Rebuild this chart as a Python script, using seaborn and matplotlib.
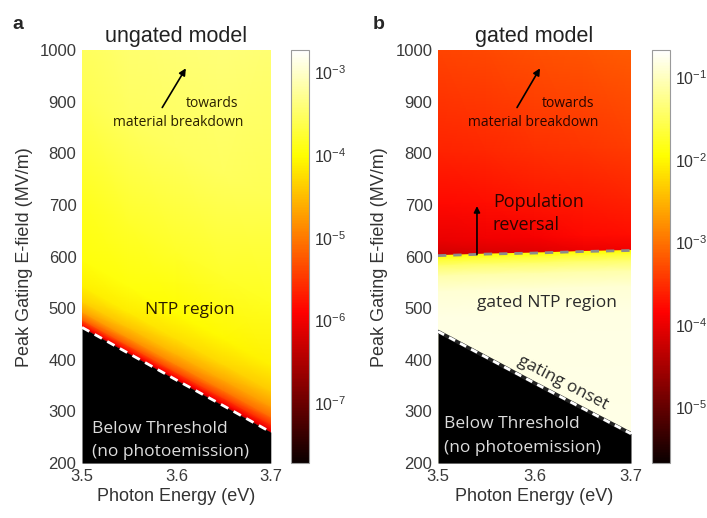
import numpy as np
import matplotlib
matplotlib.use('Agg')
import matplotlib.pyplot as plt
import seaborn as sns
from matplotlib.colors import LogNorm, Normalize
from matplotlib.cm import ScalarMappable

# photon energy columns of the mesh (eV)
energy = [3.5, 3.55, 3.6, 3.65, 3.7]

# panel a: threshold field (MV/m) and log10 yield above it
threshold_a = [463, 412, 361, 311, 260]
offset_a = [0, 5, 15, 30, 50, 80, 130, 250, 450, 800]
log_a = [
    [-6.30, -6.30, -6.30, -6.30, -6.30],
    [-5.80, -5.85, -5.90, -5.95, -6.00],
    [-5.20, -5.30, -5.40, -5.50, -5.60],
    [-4.70, -4.80, -4.90, -5.00, -5.10],
    [-4.35, -4.45, -4.55, -4.65, -4.75],
    [-4.10, -4.15, -4.25, -4.30, -4.40],
    [-3.95, -3.95, -4.00, -4.05, -4.10],
    [-3.85, -3.80, -3.80, -3.80, -3.85],
    [-3.60, -3.55, -3.55, -3.55, -3.60],
    [-3.40, -3.35, -3.35, -3.35, -3.40],
]
range_a = (-7.73, -2.73)

# panel b: gating onset, population reversal, log10 yield
onset_b = [455, 405, 355, 306, 257]
reversal_b = [602, 605, 607, 610, 612]
offset_up = [0, 30, 100, 200, 400]
log_up = [
    [-4.20, -4.15, -4.10, -4.00, -3.95],
    [-4.00, -3.95, -3.90, -3.80, -3.75],
    [-3.80, -3.75, -3.70, -3.65, -3.60],
    [-3.60, -3.55, -3.50, -3.45, -3.40],
    [-3.35, -3.30, -3.25, -3.20, -3.15],
]
offset_down = [0, 8, 20, 40, 70, 120, 400]
log_down = [-1.95, -1.70, -1.40, -1.10, -0.90, -0.82, -0.80]
range_b = (-5.68, -0.67)

xticks = [3.5, 3.6, 3.7]
yticks = list(range(200, 1001, 100))

sns.set_style('white')
plt.rcParams['font.family'] = ['Liberation Sans', 'DejaVu Sans']
ann_font = ['Open Sans', 'DejaVu Sans']

fig = plt.figure(figsize=(7.07, 5.18), dpi=100)
ax_a = fig.add_axes([0.116, 0.106, 0.267, 0.797])
cax_a = fig.add_axes([0.412, 0.106, 0.0255, 0.797])
ax_b = fig.add_axes([0.6195, 0.106, 0.273, 0.797])
cax_b = fig.add_axes([0.922, 0.106, 0.0255, 0.797])

E = np.array(energy)


def mesh(ax, base, offsets, values, rng, sign=1):
    X = np.tile(E, (len(offsets), 1))
    Y = np.array(base)[None, :] + sign * np.array(offsets)[:, None]
    C = np.array(values, dtype=float)
    if C.ndim == 1:
        C = np.tile(C[:, None], (1, len(E)))
    ax.pcolormesh(X, Y, C, shading='gouraud', cmap='hot',
                  norm=Normalize(*rng), zorder=1)


def style_axes(ax, title):
    ax.set_xlim(3.5, 3.7)
    ax.set_ylim(200, 1000)
    ax.set_xticks(xticks)
    ax.set_xticklabels(['3.5', '3.6', '3.7'])
    ax.set_yticks(yticks)
    ax.tick_params(length=0, labelsize=12, colors='#3a3a3a', pad=4)
    for s in ax.spines.values():
        s.set_visible(False)
    ax.set_xlabel('Photon Energy (eV)', fontsize=13, color='#333333', labelpad=3)
    ax.set_ylabel('Peak Gating E-field (MV/m)', fontsize=13, color='#333333', labelpad=5)
    ax.set_title(title, fontsize=15.5, color='#222222', pad=6)


def style_cbar(cax, rng):
    sm = ScalarMappable(norm=LogNorm(10 ** rng[0], 10 ** rng[1]), cmap='hot')
    cb = fig.colorbar(sm, cax=cax)
    cb.outline.set_edgecolor('#9a9a9a')
    cb.outline.set_linewidth(0.8)
    cax.tick_params(which='major', direction='in', length=4, width=0.6,
                    colors='#555555', labelsize=11.5, labelcolor='#333333')
    cax.tick_params(which='minor', direction='in', length=2, width=0.5, colors='#777777')


# panel a
mesh(ax_a, threshold_a, offset_a, log_a, range_a)
ax_a.fill_between(energy, 200, threshold_a, color='black', lw=0, zorder=2)
sns.lineplot(x=energy, y=threshold_a, ax=ax_a, color='white', lw=2,
             linestyle=(0, (3, 2.2)), zorder=3)
style_axes(ax_a, 'ungated model')
style_cbar(cax_a, range_a)

ax_a.annotate('', xy=(3.610, 965), xytext=(3.585, 889),
              arrowprops=dict(arrowstyle='-|>', color='black', lw=1.2,
                              mutation_scale=10, shrinkA=0, shrinkB=0))
ax_a.text(3.6376, 897, 'towards', ha='center', va='center', fontsize=10,
          family=ann_font, color='#2a2000')
ax_a.text(3.6016, 860, 'material breakdown', ha='center', va='center', fontsize=10,
          family=ann_font, color='#2a2000')
ax_a.text(3.614, 496, 'NTP region', ha='center', va='center', fontsize=12.5,
          family=ann_font, color='#2a1a00')
ax_a.text(3.5106, 267, 'Below Threshold', ha='left', va='center', fontsize=12.5,
          family=ann_font, color='#dddddd')
ax_a.text(3.5106, 221, '(no photoemission)', ha='left', va='center', fontsize=12.5,
          family=ann_font, color='#dddddd')

# panel b
mesh(ax_b, reversal_b, offset_up, log_up, range_b)
mesh(ax_b, reversal_b, offset_down, log_down, range_b, sign=-1)
ax_b.fill_between(energy, 200, onset_b, color='black', lw=0, zorder=2)
sns.lineplot(x=energy, y=onset_b, ax=ax_b, color='#222222', lw=2.6, zorder=3)
sns.lineplot(x=energy, y=onset_b, ax=ax_b, color='white', lw=2,
             linestyle=(0, (2.5, 2)), zorder=4)
sns.lineplot(x=energy, y=reversal_b, ax=ax_b, color='#8c8c8c', lw=2,
             linestyle=(0, (3, 2.5)), zorder=3)
style_axes(ax_b, 'gated model')
style_cbar(cax_b, range_b)

ax_b.annotate('', xy=(3.6057, 965), xytext=(3.5819, 889),
              arrowprops=dict(arrowstyle='-|>', color='black', lw=1.2,
                              mutation_scale=10, shrinkA=0, shrinkB=0))
ax_b.text(3.6347, 897, 'towards', ha='center', va='center', fontsize=10,
          family=ann_font, color='#2a0500')
ax_b.text(3.5984, 860, 'material breakdown', ha='center', va='center', fontsize=10,
          family=ann_font, color='#2a0500')
ax_b.annotate('', xy=(3.5404, 698), xytext=(3.5404, 604),
              arrowprops=dict(arrowstyle='-|>', color='black', lw=1.2,
                              mutation_scale=9, shrinkA=0, shrinkB=0), zorder=5)
ax_b.text(3.557, 706, 'Population', ha='left', va='center', fontsize=13,
          family=ann_font, color='#2a0500')
ax_b.text(3.557, 661, 'reversal', ha='left', va='center', fontsize=13,
          family=ann_font, color='#2a0500')
ax_b.text(3.613, 510, 'gated NTP region', ha='center', va='center', fontsize=12.5,
          family=ann_font, color='#2a2a2a')
ax_b.text(3.629, 356, 'gating onset', ha='center', va='center', fontsize=12.5,
          family=ann_font, color='#2a2a2a', rotation=-27.6, rotation_mode='anchor')
ax_b.text(3.506, 275, 'Below Threshold', ha='left', va='center', fontsize=12.5,
          family=ann_font, color='#dddddd')
ax_b.text(3.506, 229, '(no photoemission)', ha='left', va='center', fontsize=12.5,
          family=ann_font, color='#dddddd')

# panel letters
fig.text(0.017, 0.97, 'a', fontsize=14, fontweight='bold', va='top')
fig.text(0.527, 0.97, 'b', fontsize=14, fontweight='bold', va='top')

fig.savefig('out.png', dpi=100)
